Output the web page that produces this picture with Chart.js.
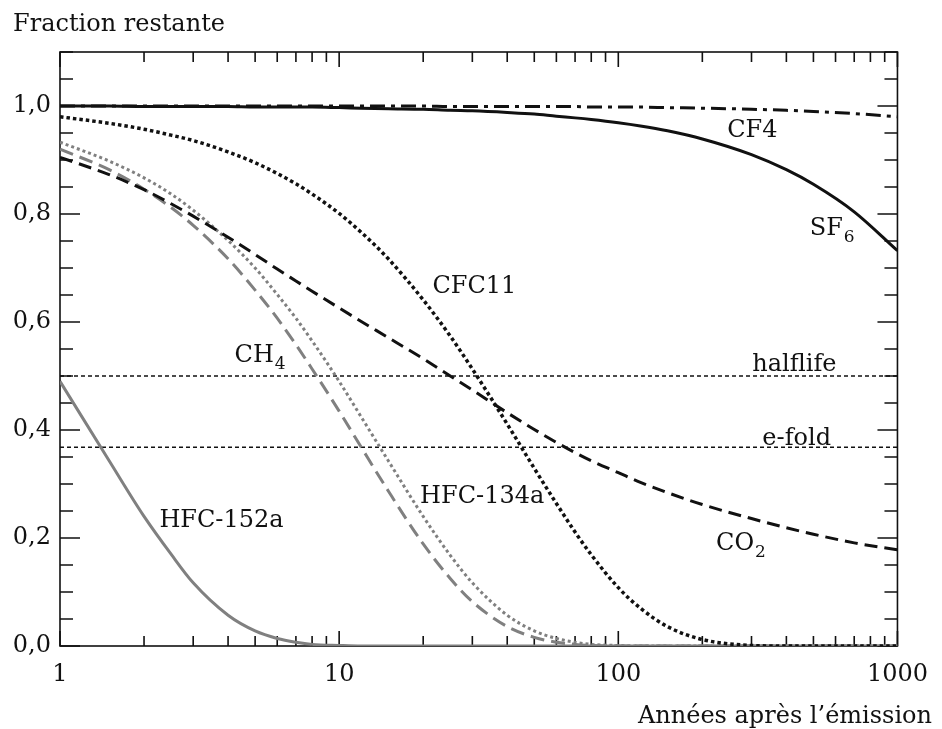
<!DOCTYPE html>
<html>
<head>
<meta charset="utf-8">
<script src="https://cdn.jsdelivr.net/npm/chart.js@4"></script>
<style>
  html, body { margin: 0; padding: 0; background: #fff; }
  #wrap { width: 942px; height: 729px; position: relative; }
</style>
</head>
<body>
<div id="wrap"><canvas id="chart" width="942" height="729"></canvas></div>
<script>
// years after emission (log axis)
const years = [1, 1.5, 2, 2.5, 3, 4, 5, 6, 7, 8, 10, 12, 15, 20, 25, 30, 40, 50, 60, 70, 80, 100, 120, 150, 200, 300, 400, 500, 700, 1000];

// fraction remaining
const cf4     = [1, 1, 1, 1, 1, 1, 1, 1, 1, 1, 1, 1, 1, 1, 0.999, 0.999, 0.999, 0.999, 0.999, 0.999, 0.998, 0.998, 0.998, 0.997, 0.996, 0.994, 0.992, 0.990, 0.986, 0.980];
const sf6     = [1.000, 1.000, 0.999, 0.999, 0.999, 0.999, 0.998, 0.998, 0.998, 0.998, 0.997, 0.996, 0.995, 0.994, 0.992, 0.991, 0.988, 0.985, 0.981, 0.978, 0.975, 0.969, 0.963, 0.954, 0.939, 0.910, 0.882, 0.855, 0.804, 0.732];
const cfc11   = [0.980, 0.968, 0.957, 0.946, 0.936, 0.915, 0.895, 0.875, 0.856, 0.837, 0.801, 0.766, 0.717, 0.641, 0.574, 0.513, 0.411, 0.329, 0.264, 0.211, 0.169, 0.108, 0.070, 0.036, 0.012, 0.001, 0, 0, 0, 0];
const co2     = [0.905, 0.873, 0.845, 0.819, 0.796, 0.757, 0.725, 0.698, 0.676, 0.657, 0.626, 0.601, 0.571, 0.532, 0.500, 0.474, 0.432, 0.401, 0.377, 0.358, 0.343, 0.321, 0.303, 0.284, 0.262, 0.236, 0.219, 0.207, 0.191, 0.178];
const ch4     = [0.920, 0.882, 0.846, 0.812, 0.779, 0.717, 0.659, 0.607, 0.558, 0.513, 0.435, 0.368, 0.287, 0.189, 0.125, 0.082, 0.036, 0.016, 0.007, 0.003, 0.001, 0, 0, 0, 0, 0, 0, 0, 0, 0];
const hfc134a = [0.933, 0.898, 0.867, 0.837, 0.807, 0.751, 0.700, 0.651, 0.607, 0.565, 0.490, 0.424, 0.343, 0.240, 0.168, 0.117, 0.057, 0.028, 0.014, 0.007, 0.003, 0.001, 0, 0, 0, 0, 0, 0, 0, 0];
const hfc152a = [0.490, 0.343, 0.240, 0.170, 0.117, 0.057, 0.028, 0.014, 0.007, 0.003, 0.001, 0, 0, 0, 0, 0, 0, 0, 0, 0, 0, 0, 0, 0, 0, 0, 0, 0, 0, 0];

// reference levels
const refYears = [1, 1000];
const halflife = [0.5, 0.5];
const efold = [0.368, 0.368];

// axis ticks
const xTickValues = [1, 10, 100, 1000];
const xTickLabels = ['1', '10', '100', '1000'];
const yTickValues = [0, 0.2, 0.4, 0.6, 0.8, 1.0];
const yTickLabels = ['0,0', '0,2', '0,4', '0,6', '0,8', '1,0'];

const FONT = 'DejaVu Serif';
const INK = '#111';
const GREY = '#808080';

const pts = (xs, ys) => xs.map((x, i) => ({ x: x, y: ys[i] }));

function curve(label, values, color, dash, width) {
    return {
        label: label,
        data: pts(years, values),
        borderColor: color,
        borderWidth: width || 3,
        borderDash: dash,
        borderCapStyle: 'butt',
        pointRadius: 0,
        cubicInterpolationMode: 'monotone',
        fill: false
    };
}

// curve names, placed in data coordinates
const curveLabels = [
    { text: 'CF4', x: 302, y: 0.943, align: 'center' },
    { text: 'SF', sub: '6', x: 485, y: 0.761 },
    { text: 'CFC11', x: 30.5, y: 0.654, align: 'center' },
    { text: 'CH', sub: '4', x: 4.22, y: 0.526 },
    { text: 'halflife', x: 302, y: 0.509 },
    { text: 'e-fold', x: 328, y: 0.372 },
    { text: 'HFC-134a', x: 19.5, y: 0.265 },
    { text: 'HFC-152a', x: 2.27, y: 0.220 },
    { text: 'CO', sub: '2', x: 224, y: 0.178 }
];

const framePlugin = {
    id: 'framePlugin',
    beforeDatasetsDraw(chart) {
        const { ctx, chartArea: a, scales: { x, y } } = chart;
        ctx.save();
        ctx.strokeStyle = INK;
        ctx.lineWidth = 1.6;
        ctx.strokeRect(a.left, a.top, a.right - a.left, a.bottom - a.top);
        ctx.beginPath();
        // x ticks, inside, bottom and top
        for (let d = 1; d <= 1000; d *= 10) {
            for (let m = 1; m <= 9; m++) {
                const v = d * m;
                if (v > 1000) break;
                const px = x.getPixelForValue(v);
                const len = m === 1 ? 15 : 10;
                ctx.moveTo(px, a.bottom); ctx.lineTo(px, a.bottom - len);
                ctx.moveTo(px, a.top); ctx.lineTo(px, a.top + len);
            }
        }
        // y ticks every 0.05, longer every 0.2
        for (let i = 0; i <= 22; i++) {
            const v = i * 0.05;
            const py = y.getPixelForValue(v);
            const len = i % 4 === 0 ? 20 : 13;
            ctx.moveTo(a.left, py); ctx.lineTo(a.left + len, py);
            ctx.moveTo(a.right, py); ctx.lineTo(a.right - len, py);
        }
        ctx.stroke();
        ctx.restore();
    },
    afterDraw(chart) {
        const { ctx, scales: { x, y } } = chart;
        ctx.save();
        ctx.fillStyle = INK;
        ctx.textBaseline = 'alphabetic';
        curveLabels.forEach(l => {
            const px = x.getPixelForValue(l.x);
            const py = y.getPixelForValue(l.y);
            ctx.font = '24px "' + FONT + '"';
            let w = ctx.measureText(l.text).width;
            let left = px;
            if (l.align === 'center') left = px - w / 2;
            ctx.textAlign = 'left';
            ctx.fillText(l.text, left, py);
            if (l.sub) {
                ctx.font = '17px "' + FONT + '"';
                ctx.fillText(l.sub, left + w + 1, py + 7);
            }
        });
        ctx.font = '24px "' + FONT + '"';
        ctx.textAlign = 'left';
        ctx.fillText('Fraction restante', 13, 31);
        ctx.textAlign = 'right';
        ctx.fillText('Années après l\u2019émission', 932, 723);
        ctx.restore();
    }
};

const ctx = document.getElementById('chart');
new Chart(ctx, {
    type: 'line',
    data: {
        datasets: [
            curve('CF4', cf4, INK, [15, 6, 4, 6]),
            curve('SF6', sf6, INK, []),
            curve('CFC11', cfc11, INK, [3.5, 3], 3.5),
            curve('CO2', co2, INK, [13, 7]),
            curve('CH4', ch4, GREY, [14, 7]),
            curve('HFC-134a', hfc134a, GREY, [3, 3]),
            curve('HFC-152a', hfc152a, GREY, []),
            { label: 'halflife', data: pts(refYears, halflife), borderColor: INK, borderWidth: 1.4, borderDash: [4, 3], pointRadius: 0 },
            { label: 'e-fold', data: pts(refYears, efold), borderColor: INK, borderWidth: 1.4, borderDash: [4, 3], pointRadius: 0 }
        ]
    },
    options: {
        responsive: false,
        animation: false,
        layout: { padding: { top: 52, right: 34, left: 0, bottom: 0 } },
        plugins: { legend: { display: false }, tooltip: { enabled: false } },
        scales: {
            x: {
                type: 'logarithmic',
                min: 1,
                max: 1000,
                afterFit: s => { s.height = 83; },
                afterBuildTicks: s => { s.ticks = xTickValues.map(v => ({ value: v })); },
                grid: { display: false, drawTicks: false },
                border: { display: false },
                ticks: {
                    autoSkip: false,
                    maxRotation: 0,
                    padding: 14,
                    color: INK,
                    font: { family: FONT, size: 24 },
                    callback: v => xTickLabels[xTickValues.indexOf(v)] ?? ''
                }
            },
            y: {
                type: 'linear',
                min: 0,
                max: 1.1,
                afterFit: s => { s.width = 60; },
                afterBuildTicks: s => { s.ticks = yTickValues.map(v => ({ value: v })); },
                grid: { display: false, drawTicks: false },
                border: { display: false },
                ticks: {
                    padding: 9,
                    color: INK,
                    font: { family: FONT, size: 24 },
                    callback: (v, i) => yTickLabels[i]
                }
            }
        }
    },
    plugins: [framePlugin]
});
</script>
</body>
</html>
